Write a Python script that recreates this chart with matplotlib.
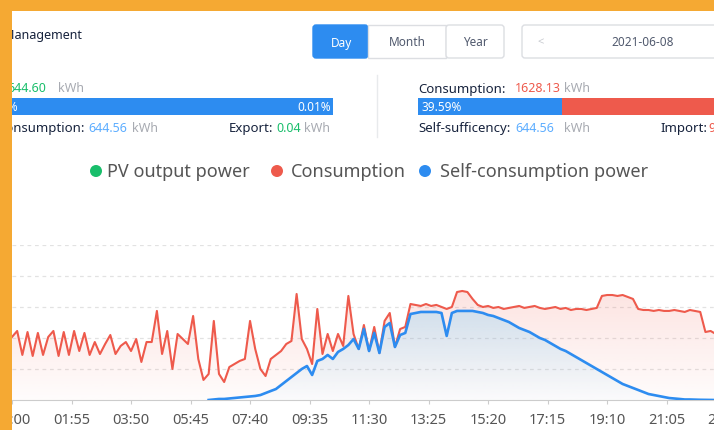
import numpy as np
import matplotlib.pyplot as plt
from matplotlib.patches import Rectangle, Polygon, FancyBboxPatch, Circle

plt.rcParams['font.family'] = ['Noto Sans', 'DejaVu Sans']

# x axis: one point every 10 minutes, labels every 115 minutes
minutes = np.arange(0, 1440, 10)
tick_minutes = np.arange(0, 1440, 115)
tick_labels = ['00:00', '01:55', '03:50', '05:45', '07:40', '09:35', '11:30',
               '13:25', '15:20', '17:15', '19:10', '21:05', '23:00']

# consumption (kW)
consumption = [
    61.0, 66.8, 43.6, 65.8, 42.6, 64.9, 43.6, 61.0, 66.8, 42.6, 65.8, 43.6,
    66.8, 47.4, 64.9, 43.6, 56.1, 44.5, 54.2, 62.9, 44.5, 52.3, 56.1, 47.4,
    59.0, 36.8, 56.1, 56.1, 86.2, 44.5, 66.8, 30.0, 63.9, 59.0, 54.2, 81.3,
    39.7, 19.4, 25.2, 76.5, 25.2, 17.4, 31.9, 34.8, 37.8, 39.7, 76.5, 49.4,
    30.0, 23.2, 39.7, 43.6, 47.4, 54.2, 57.1, 102.6, 59.0, 49.4, 34.8, 88.1,
    44.5, 63.9, 47.4, 63.9, 52.3, 100.7, 63.9, 49.4, 72.6, 47.4, 70.7, 45.5,
    76.5, 84.2, 51.3, 68.7, 70.7, 92.9, 92.0, 91.0, 92.9, 91.0, 92.0, 90.0,
    88.1, 90.0, 104.5, 105.5, 104.5, 97.8, 92.0, 90.0, 91.0, 89.1, 90.0, 88.1,
    89.1, 90.0, 91.0, 89.1, 90.0, 91.0, 89.1, 88.1, 89.1, 90.0, 88.1, 89.1,
    87.1, 88.1, 88.1, 87.1, 88.1, 89.1, 100.7, 101.6, 101.6, 100.7, 101.6, 99.7,
    97.8, 88.1, 87.1, 87.1, 86.2, 87.1, 86.2, 86.2, 87.1, 86.2, 85.2, 87.1,
    86.2, 85.2, 65.8, 66.8, 63.9, 65.8, 64.9, 66.8, 63.9, 65.8, 64.9, 65.8,
]

# self-consumption power (kW), no data before sunrise
self_consumption = [
    None, None, None, None, None, None, None, None, None, None, None, None,
    None, None, None, None, None, None, None, None, None, None, None, None,
    None, None, None, None, None, None, None, None, None, None, None, None,
    None, None, 0.0, 0.5, 1.0, 1.0, 1.5, 1.9, 2.4, 2.9, 3.4, 3.9,
    4.8, 6.8, 8.7, 10.6, 14.5, 18.4, 22.3, 26.1, 30.0, 32.9, 24.2, 37.8,
    39.7, 43.6, 39.7, 46.5, 49.4, 53.2, 59.0, 49.4, 68.7, 47.4, 64.9, 45.5,
    70.7, 74.5, 51.3, 62.9, 64.9, 83.2, 84.2, 85.2, 85.2, 85.2, 85.2, 84.2,
    62.0, 84.2, 86.2, 86.2, 86.2, 86.2, 85.2, 84.2, 82.3, 81.3, 79.4, 77.4,
    75.5, 72.6, 69.7, 67.8, 65.8, 62.9, 60.0, 58.1, 55.2, 52.3, 49.4, 47.4,
    44.5, 41.6, 38.7, 35.8, 32.9, 30.0, 27.1, 24.2, 21.3, 18.4, 15.5, 13.6,
    11.6, 9.7, 7.7, 5.8, 4.8, 3.9, 2.9, 1.9, 1.5, 1.0, 0.5, 0.5,
    0.3, 0.2, 0.1, 0.0, 0.0, 0.0, 0.0, 0.0, 0.0, 0.0, 0.0, 0.0,
]

legend_names = ['PV output power', 'Consumption', 'Self-consumption power']

GREEN = '#19be6b'
RED = '#ee5a4c'
BLUE = '#2d8cf0'
ORANGE = '#f5a933'

W, H = 714, 431


def box(x0, y0, w, h):
    # pixel box (from top-left) -> figure fraction
    return [x0 / W, 1 - (y0 + h) / H, w / W, h / H]


def gradient_fill(ax, x, y, rgb, a_top, a_bottom, z):
    top = np.nanmax(y)
    verts = np.column_stack([np.r_[x[0], x, x[-1]], np.r_[0, y, 0]])
    clip = Polygon(verts, closed=True, facecolor='none', edgecolor='none')
    ax.add_patch(clip)
    grad = np.zeros((256, 1, 4))
    grad[:, :, :3] = rgb
    grad[:, 0, 3] = np.linspace(a_bottom, a_top, 256)
    im = ax.imshow(grad, extent=[x[0], x[-1], 0, top], origin='lower',
                   aspect='auto', zorder=z, interpolation='bilinear')
    im.set_clip_path(clip)


fig = plt.figure(figsize=(W / 100, H / 100), dpi=100)
fig.patch.set_facecolor('white')

# ---- chart ----
ax = fig.add_axes(box(12, 246, 740, 155))
cons = np.array(consumption, dtype=float)
selfc = np.array([np.nan if v is None else v for v in self_consumption])
ok = ~np.isnan(selfc)

gradient_fill(ax, minutes, cons, (0.95, 0.40, 0.35), 0.18, 0.02, 1)
gradient_fill(ax, minutes[ok], selfc[ok], (0.38, 0.80, 1.0), 0.27, 0.02, 1.5)
ax.plot(minutes, cons, color=RED, lw=1.5, zorder=3, solid_joinstyle='round')
ax.plot(minutes, selfc, color=BLUE, lw=1.9, zorder=4, solid_joinstyle='round')

ax.set_xlim(0, 1430)
ax.set_ylim(0, 150)
ax.set_yticks([30, 60, 90, 120, 150])
ax.yaxis.grid(True, color='#e2e2e2', linestyle=(0, (3, 3)), lw=0.9)
ax.set_axisbelow(True)
ax.tick_params(axis='y', left=False, labelleft=False)
ax.set_xticks(tick_minutes)
ax.set_xticklabels(tick_labels)
ax.tick_params(axis='x', length=3, color='#cccccc', pad=5.5,
               labelsize=10.5, labelcolor='#555555')
for s in ['top', 'left', 'right']:
    ax.spines[s].set_visible(False)
ax.spines['bottom'].set_color('#cccccc')
ax.patch.set_alpha(0)

# ---- page elements drawn in pixel coordinates ----
ui = fig.add_axes([0, 0, 1, 1], zorder=5)
ui.set_xlim(0, W)
ui.set_ylim(H, 0)
ui.axis('off')

dark = '#17233d'
unit = '#a8abb2'
txt = '#515a6e'

ui.text(82, 35, 'Energy Management', ha='right', va='center', fontsize=9, color=dark)

# period buttons
ui.add_patch(FancyBboxPatch((313, 26), 55, 33, boxstyle='round,pad=0,rounding_size=3',
                            fc=BLUE, ec=BLUE, lw=1))
ui.add_patch(Rectangle((368, 26), 78, 33, fc='white', ec='#dcdee2', lw=1))
ui.add_patch(FancyBboxPatch((446, 26), 58, 33, boxstyle='round,pad=0,rounding_size=3',
                            fc='white', ec='#dcdee2', lw=1))
ui.text(341, 43, 'Day', ha='center', va='center', fontsize=8.5, color='white')
ui.text(407, 43, 'Month', ha='center', va='center', fontsize=8.5, color=txt)
ui.text(475, 43, 'Year', ha='center', va='center', fontsize=8.5, color=txt)
ui.add_patch(FancyBboxPatch((522, 26), 240, 33, boxstyle='round,pad=0,rounding_size=3',
                            fc='white', ec='#dcdee2', lw=1))
ui.text(541, 43, '<', ha='center', va='center', fontsize=8, color='#c5c8ce')
ui.text(643, 43, '2021-06-08', ha='center', va='center', fontsize=8.5, color=txt)

# left summary
ui.text(5, 89, 'Production:', ha='right', va='center', fontsize=9.5, color=dark, weight='bold')
ui.text(7, 89, '644.60', ha='left', va='center', fontsize=9, color=GREEN)
ui.text(58, 89, 'kWh', ha='left', va='center', fontsize=9, color=unit)
ui.add_patch(Rectangle((-31, 99), 364, 17, fc=BLUE, ec='none'))
ui.text(18, 108, '99.99%', ha='right', va='center', fontsize=8.5, color='white')
ui.text(331, 108, '0.01%', ha='right', va='center', fontsize=8.5, color='white')
ui.text(85, 129, 'Self-consumption:', ha='right', va='center', fontsize=9.5, color=dark, weight='bold')
ui.text(88, 129, '644.56', ha='left', va='center', fontsize=9, color='#5cadff')
ui.text(132, 129, 'kWh', ha='left', va='center', fontsize=9, color=unit)
ui.text(273, 129, 'Export:', ha='right', va='center', fontsize=9.5, color=dark, weight='bold')
ui.text(276, 129, '0.04', ha='left', va='center', fontsize=9, color=GREEN)
ui.text(304, 129, 'kWh', ha='left', va='center', fontsize=9, color=unit)

ui.plot([377, 377], [76, 138], color='#e8eaec', lw=1)

# right summary
ui.text(418, 89, 'Consumption:', ha='left', va='center', fontsize=9.5, color=dark, weight='bold')
ui.text(515, 89, '1628.13', ha='left', va='center', fontsize=9, color=RED)
ui.text(564, 89, 'kWh', ha='left', va='center', fontsize=9, color=unit)
ui.add_patch(Rectangle((418, 99), 144, 17, fc=BLUE, ec='none'))
ui.add_patch(Rectangle((562, 99), 220, 17, fc=RED, ec='none'))
ui.text(421, 108, '39.59%', ha='left', va='center', fontsize=8.5, color='white')
ui.text(418, 129, 'Self-sufficency:', ha='left', va='center', fontsize=9.5, color=dark, weight='bold')
ui.text(515, 129, '644.56', ha='left', va='center', fontsize=9, color='#5cadff')
ui.text(564, 129, 'kWh', ha='left', va='center', fontsize=9, color=unit)
ui.text(660, 129, 'Import:', ha='left', va='center', fontsize=9.5, color=dark, weight='bold')
ui.text(709, 129, '983.57 kWh', ha='left', va='center', fontsize=9, color=RED)

# legend
for cx, tx, name, col in zip([96, 277, 425], [107, 291, 440], legend_names, [GREEN, RED, BLUE]):
    ui.add_patch(Circle((cx, 172), 6, fc=col, ec='none'))
    ui.text(tx, 172, name, ha='left', va='center', fontsize=13, color='#555555')

# orange frame of the screenshot
ui.add_patch(Rectangle((0, 0), W, 12, fc=ORANGE, ec='none', zorder=10))
ui.add_patch(Rectangle((0, 0), 12, H, fc=ORANGE, ec='none', zorder=10))

fig.savefig('out.png', dpi=100)
